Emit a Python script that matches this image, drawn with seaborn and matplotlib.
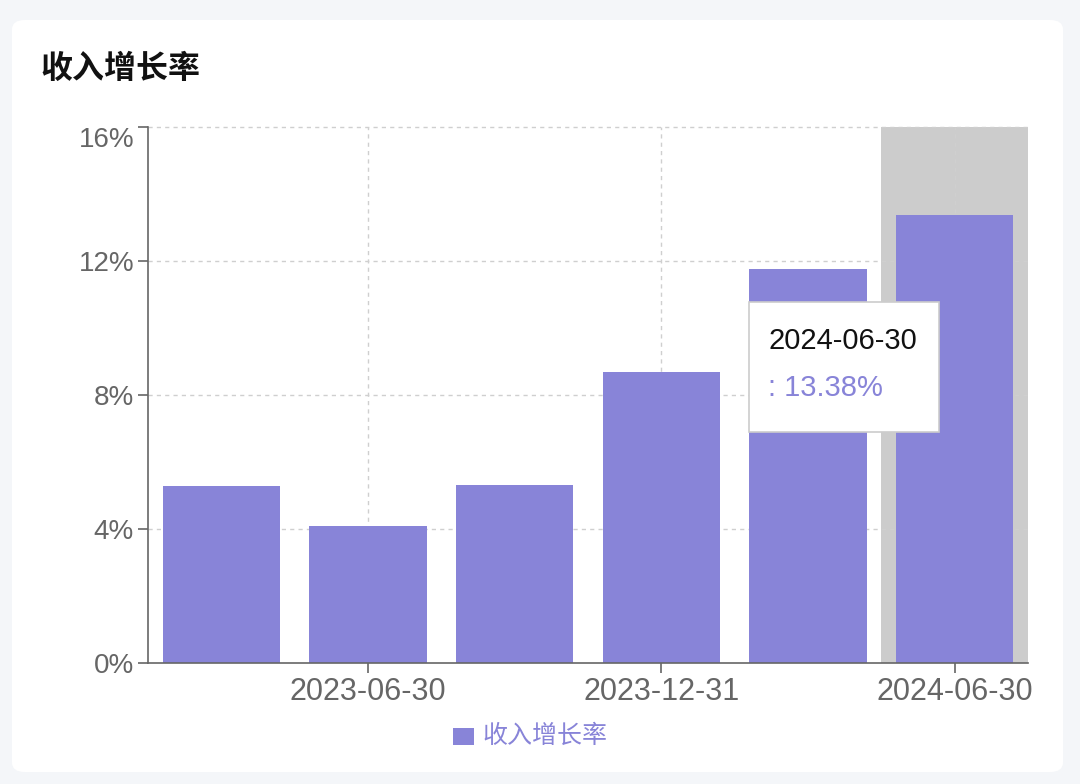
import seaborn as sns
import matplotlib.pyplot as plt
import matplotlib.transforms as mtransforms
import pandas as pd
from matplotlib.patches import FancyBboxPatch, Rectangle

report_dates = ["2023-03-31", "2023-06-30", "2023-09-30", "2023-12-31", "2024-03-31", "2024-06-30"]
growth_pct = [5.28, 4.09, 5.31, 8.69, 11.76, 13.38]
y_ticks = [0, 4, 8, 12, 16]
shown_dates = ["2023-06-30", "2023-12-31", "2024-06-30"]
series_name = "收入增长率"

bar_color = "#8884d8"
axis_grey = "#666666"

sns.set_theme(style="white")
plt.rcParams['font.family'] = ['Liberation Sans', 'Noto Sans CJK SC', 'DejaVu Sans']

df = pd.DataFrame({"date": report_dates, "growth": growth_pct})

fig = plt.figure(figsize=(10.8, 7.84), dpi=100)
fig.patch.set_facecolor("#f4f6f9")
card = FancyBboxPatch((12 / 1080, 12 / 784), 1051 / 1080, 752 / 784,
                      boxstyle="round,pad=0,rounding_size=0.012",
                      transform=fig.transFigure, facecolor="white", edgecolor="none", zorder=-10)
fig.patches.append(card)

ax = fig.add_axes([148 / 1080, 1 - 663 / 784, 880 / 1080, 536 / 784])
ax.set_facecolor("none")

# hover band behind the last bar
last = len(report_dates) - 1
ax.axvspan(last - 0.5, last + 0.5, color="#cccccc", zorder=0.5, lw=0)

sns.barplot(data=df, x="date", y="growth", color=bar_color, saturation=1,
            width=0.8, linewidth=0, ax=ax, zorder=2)

ax.set_xlim(-0.5, len(report_dates) - 0.5)
ax.set_ylim(0, 16)
ax.set_yticks(y_ticks)
ax.set_yticklabels([f"{t}%" for t in y_ticks])
tick_pos = [report_dates.index(d) for d in shown_dates]
ax.set_xticks(tick_pos)
ax.set_xticklabels(shown_dates)
ax.set_xlabel("")
ax.set_ylabel("")

# dashed grid
for t in y_ticks[1:]:
    ax.axhline(t, color="#cfcfcf", lw=1, ls=(0, (3, 3)), zorder=1, clip_on=False)
for p in tick_pos:
    ax.axvline(p, color="#cfcfcf", lw=1, ls=(0, (3, 3)), zorder=1)
ax.axvline(len(report_dates) - 0.5, color="#cfcfcf", lw=1, ls=(0, (3, 3)), zorder=1)

for s in ["top", "right"]:
    ax.spines[s].set_visible(False)
for s in ["left", "bottom"]:
    ax.spines[s].set_color(axis_grey)
    ax.spines[s].set_linewidth(1.2)
    ax.spines[s].set_zorder(3)
ax.tick_params(axis="both", colors=axis_grey, labelcolor=axis_grey,
               length=7, width=1.2, direction="out", left=True, bottom=True)
ax.tick_params(axis="y", labelsize=20, pad=3)
ax.tick_params(axis="x", labelsize=22, pad=3)

# top label sits a bit lower, like the original
top_lbl = ax.get_yticklabels()[-1]
top_lbl.set_transform(top_lbl.get_transform() +
                      mtransforms.ScaledTranslation(0, -10 / 100, fig.dpi_scale_trans))

# title
fig.text(40 / 1080, 1 - 70 / 784, series_name, fontsize=23, fontweight="bold",
         color="#111111", ha="left", va="center")

# legend
fig.patches.append(Rectangle((453 / 1080, 1 - 745 / 784), 21 / 1080, 17 / 784,
                             transform=fig.transFigure, facecolor=bar_color, edgecolor="none"))
fig.text(482 / 1080, 1 - 736 / 784, series_name, fontsize=18, color=bar_color,
         ha="left", va="center")

# tooltip
tip = Rectangle((3.6, 6.9), 1.29, 3.88, transform=ax.transData, facecolor="white",
                edgecolor="#cccccc", lw=1.2, zorder=5, clip_on=False)
ax.add_patch(tip)
ax.text(3.73, 9.6, report_dates[last], fontsize=21, color="#111111",
        ha="left", va="center", zorder=6)
ax.text(3.73, 8.2, f": {growth_pct[last]:.2f}%", fontsize=21, color=bar_color,
        ha="left", va="center", zorder=6)

fig.savefig("out.png", dpi=100, facecolor=fig.get_facecolor())
